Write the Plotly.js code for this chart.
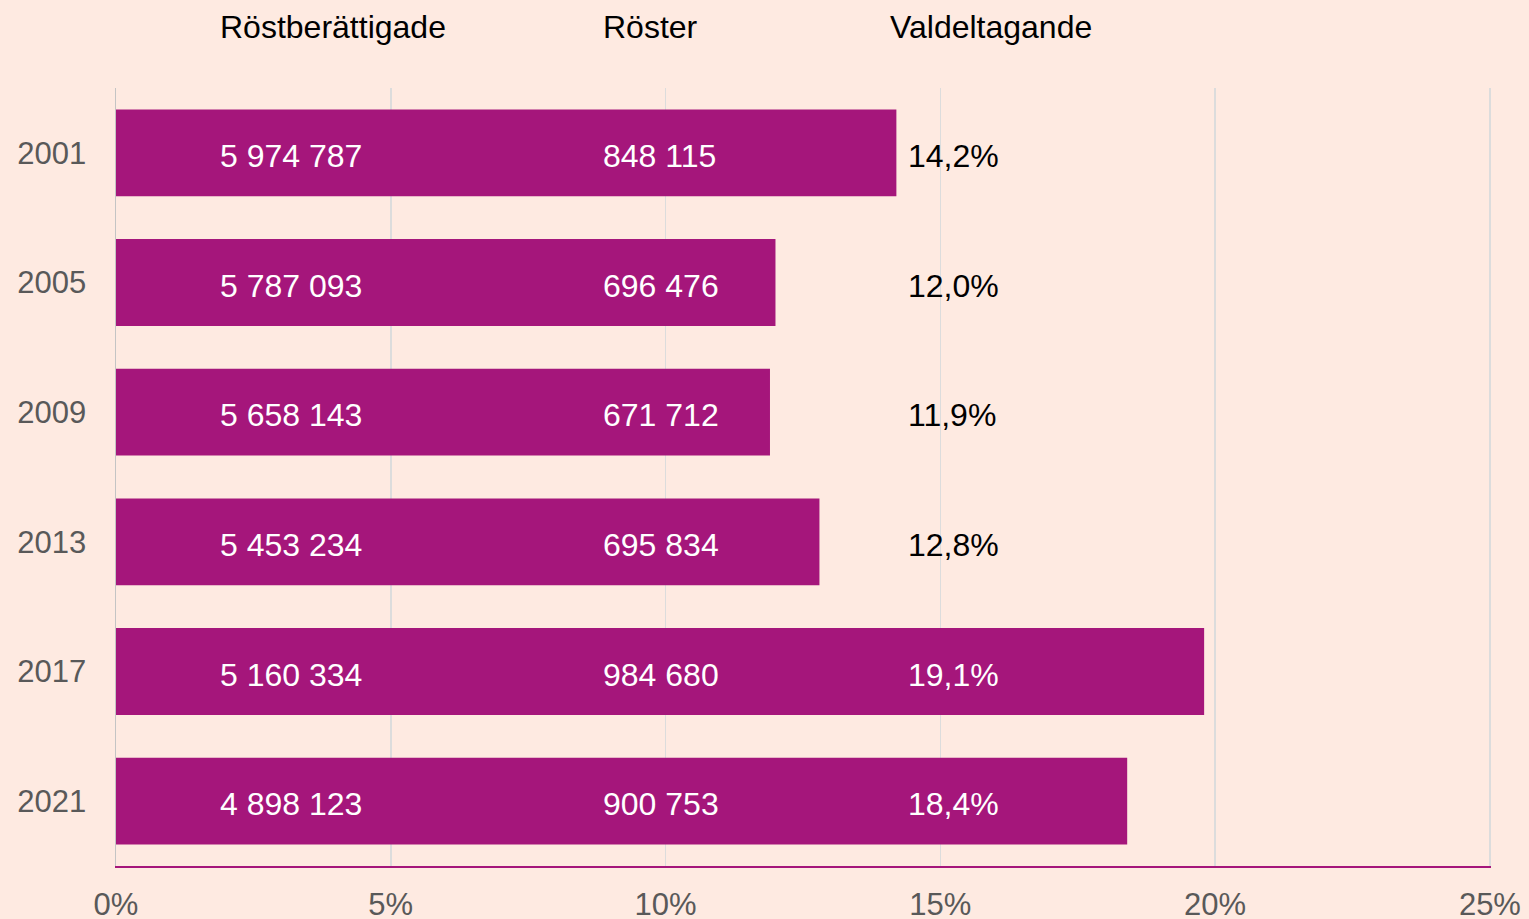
<!DOCTYPE html>
<html>
<head>
<meta charset="utf-8">
<script src="https://cdn.plot.ly/plotly-3.0.1.min.js"></script>
<style>html,body{margin:0;padding:0;background:#FEEAE1;}</style>
</head>
<body>
<div id="chart" style="width:1529px;height:919px;"></div>
<script>
// Data
const years = ['2001', '2005', '2009', '2013', '2017', '2021'];
const turnoutBar = [14.2, 12.0, 11.9, 12.8, 19.8, 18.4];      // bar lengths as drawn (%)
const eligible = ['5 974 787', '5 787 093', '5 658 143', '5 453 234', '5 160 334', '4 898 123'];
const votes = ['848 115', '696 476', '671 712', '695 834', '984 680', '900 753'];
const turnoutLabel = ['14,2%', '12,0%', '11,9%', '12,8%', '19,1%', '18,4%'];
const headers = ['Röstberättigade', 'Röster', 'Valdeltagande'];
const xTickVals = [0, 5, 10, 15, 20, 25];
const xTickText = ['0%', '5%', '10%', '15%', '20%', '25%'];

const BAR = '#A5167B';
const BG = '#FEEAE1';
const FONT = 'Liberation Sans, Arial, sans-serif';

// column positions (in x-axis units) for the text columns
const colX = [1.85, 8.83, 14.38];
const headX = [1.86, 8.83, 14.04];

const trace = {
  type: 'bar',
  orientation: 'h',
  x: turnoutBar,
  y: years,
  marker: {color: BAR},
  width: 0.67,
  hoverinfo: 'skip'
};

const annotations = [];
const cols = [eligible, votes, turnoutLabel];
cols.forEach((col, ci) => {
  col.forEach((t, i) => {
    const inside = turnoutBar[i] > colX[ci] + 0.3;
    annotations.push({
      x: colX[ci], xref: 'x', y: i, yref: 'y',
      text: t, showarrow: false, xanchor: 'left', yanchor: 'middle',
      yshift: -3,
      font: {family: FONT, size: 32, color: inside ? '#FFFFFF' : '#000000'}
    });
  });
});
headers.forEach((h, i) => {
  annotations.push({
    x: headX[i], xref: 'x', y: 1.0784, yref: 'paper',
    text: h, showarrow: false, xanchor: 'left', yanchor: 'middle',
    font: {family: FONT, size: 32, color: '#000000'}
  });
});

const layout = {
  width: 1529, height: 919,
  margin: {l: 116, r: 38, t: 88, b: 53, pad: 0},
  paper_bgcolor: BG, plot_bgcolor: BG,
  showlegend: false,
  font: {family: FONT},
  xaxis: {
    range: [0, 25.02], tickvals: xTickVals, ticktext: xTickText,
    showgrid: true, gridcolor: '#DCDCDC', gridwidth: 1.5,
    zeroline: false, showline: true, linecolor: BAR, linewidth: 2,
    ticks: '', ticklabelstandoff: 10,
    tickfont: {family: FONT, size: 31, color: '#595959'},
    fixedrange: true
  },
  yaxis: {
    type: 'category', categoryorder: 'array', categoryarray: years,
    range: [5.5, -0.5], autorange: false,
    showgrid: false, zeroline: false, showline: true, linecolor: '#C4C4C4', linewidth: 1.5,
    ticks: '', ticklabelstandoff: 22,
    tickfont: {family: FONT, size: 31, color: '#595959'},
    fixedrange: true
  },
  annotations: annotations
};

Plotly.newPlot('chart', [trace], layout, {displayModeBar: false, staticPlot: true});
</script>
</body>
</html>
